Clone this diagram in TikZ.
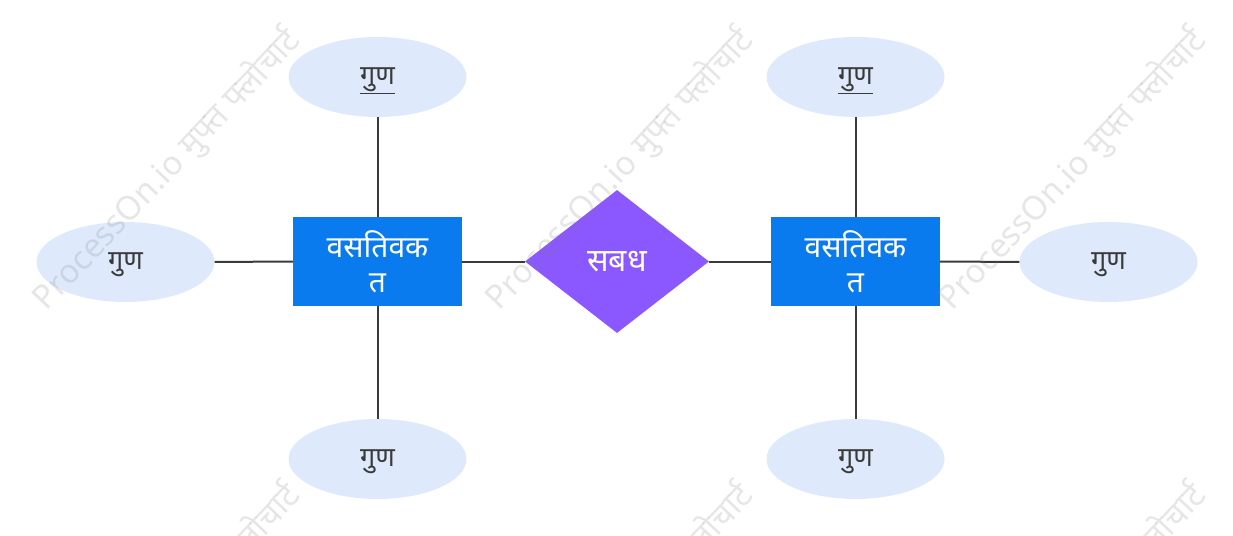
\documentclass[tikz,border=0pt]{standalone}
\usepackage{fontspec}
\setmainfont{Noto Sans}[Script=Devanagari]
\usetikzlibrary{shapes.geometric}

\definecolor{entityblue}{HTML}{0A7BEE}
\definecolor{relpurple}{HTML}{8B57FF}
\definecolor{attrfill}{HTML}{DEEAFC}
\definecolor{linegray}{HTML}{3A3A3A}

\tikzset{
  entitybox/.style={rectangle, fill=entityblue, minimum width=169pt, minimum height=89pt,
    inner sep=0pt, text=white, align=center, font=\bfseries\fontsize{30}{35}\selectfont},
  relbox/.style={diamond, fill=relpurple, minimum width=184pt, minimum height=143pt,
    inner sep=0pt, text=white, font=\bfseries\fontsize{32}{36}\selectfont},
  attr/.style={ellipse, fill=attrfill, minimum width=178pt, minimum height=80pt,
    inner sep=0pt, text=linegray, text height=16pt, text depth=1pt,
    font=\fontsize{27}{30}\selectfont},
  conn/.style={draw=linegray, line width=2pt},
  wmark/.style={rotate=46.5, text=gray, opacity=0.2, font=\fontsize{33}{36}\selectfont}
}

\begin{document}
\begin{tikzpicture}[x=1pt, y=-1pt]
\useasboundingbox (0,0) rectangle (1233,535);

\node[entitybox] (ent1) at (377.5,261.5) {वसतिवक\\त};
\node[entitybox] (ent2) at (855.5,261.5) {वसतिवक\\त};
\node[relbox] (rel) at (617,261.5) {सबध};

\node[attr] (a1) at (377.5,77) {\underline{गुण}};
\node[attr] (a2) at (125.5,262) {गुण};
\node[attr] (a3) at (377.5,459) {गुण};
\node[attr] (a4) at (855.5,77) {\underline{गुण}};
\node[attr] (a5) at (1108.5,262) {गुण};
\node[attr] (a6) at (855.5,459) {गुण};

\draw[conn] (ent1) -- (a1);
\draw[conn] (ent1) -- (a2);
\draw[conn] (ent1) -- (a3);
\draw[conn] (ent1) -- (rel);
\draw[conn] (rel) -- (ent2);
\draw[conn] (ent2) -- (a4);
\draw[conn] (ent2) -- (a5);
\draw[conn] (ent2) -- (a6);

% watermark
\begin{scope}
\clip (0,0) rectangle (1233,535);
\foreach \i in {0,1,2}
  \foreach \j in {0,1}
    \node[wmark] (wm\i\j) at (167+453*\i,170+455*\j) {ProcessOn.io मुफ्त फ्लोचार्ट};
\end{scope}
\end{tikzpicture}
\end{document}
